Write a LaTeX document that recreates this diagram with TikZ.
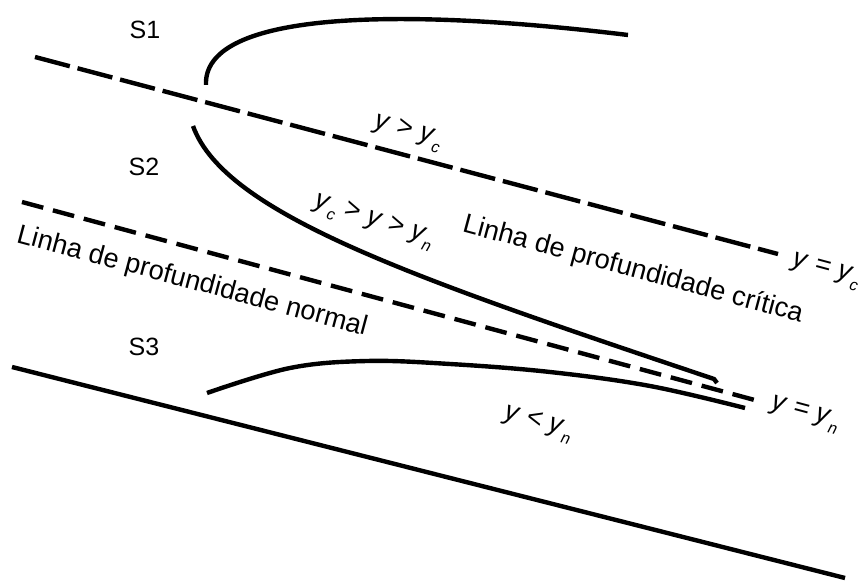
\documentclass[tikz,border=0pt]{standalone}
\usepackage{fontspec}
\setmainfont{Liberation Sans}
\newcommand\vy{\textit{y}}
\newcommand\vsub[1]{\raisebox{-0.3em}{\fontsize{8}{8}\selectfont\textit{#1}}}
\begin{document}
\begin{tikzpicture}[x=0.5pt,y=-0.5pt,
  curve/.style={line width=2.2pt},
  critline/.style={line width=2.2pt,dash pattern=on 18pt off 4pt},
  normline/.style={line width=2.2pt,dash pattern=on 11pt off 5pt},
  lbl/.style={font=\fontsize{13.6}{15}\selectfont,inner sep=0pt},
  slbl/.style={font=\fontsize{12.5}{14}\selectfont,inner sep=0pt}]
\useasboundingbox (0,0) rectangle (862,581);
% lines
\coordinate (c1) at (35,57);
\coordinate (c2) at (778,254);
\coordinate (n1) at (22,202);
\coordinate (n2) at (762,402);
\coordinate (b1) at (12,367);
\coordinate (b2) at (845,578);
\draw[critline] (c1) -- (c2);
\draw[normline] (n1) -- (n2);
\draw[curve] (b1) -- (b2);
% S1 curve
\draw[curve] (206,85) .. controls (203,15) and (380,5) .. (628,35);
% S2 curve
\draw[curve] (193,126) .. controls (225,215) and (420,280) .. (714,379) -- (717,383);
% S3 curve
\draw[curve] plot[smooth,tension=0.6] coordinates {(207,393) (290,368) (367,361) (450,364) (550,372) (650,386) (745,408)};
% labels
\node[slbl] (s1) at (145,30) {S1};
\node[slbl] (s2) at (144,167) {S2};
\node[slbl] (s3) at (144,347) {S3};
\node[lbl,rotate=-15] (ygc) at (408,133) {\vy{} > \vy\vsub{c}};
\node[lbl,rotate=-18] (ymid) at (374,222) {\vy\vsub{c} > \vy{} > \vy\vsub{n}};
\node[lbl,rotate=-15] (crit) at (633,270) {Linha de profundidade crítica};
\node[lbl,rotate=-15] (yeqc) at (826,272) {\vy{} = \vy\vsub{c}};
\node[lbl,rotate=-15] (norm) at (192,282) {Linha de profundidade normal};
\node[lbl,rotate=-15] (yeqn) at (805,415) {\vy{} = \vy\vsub{n}};
\node[lbl,rotate=-15] (yltn) at (538,424) {\vy{} < \vy\vsub{n}};
\end{tikzpicture}
\end{document}
